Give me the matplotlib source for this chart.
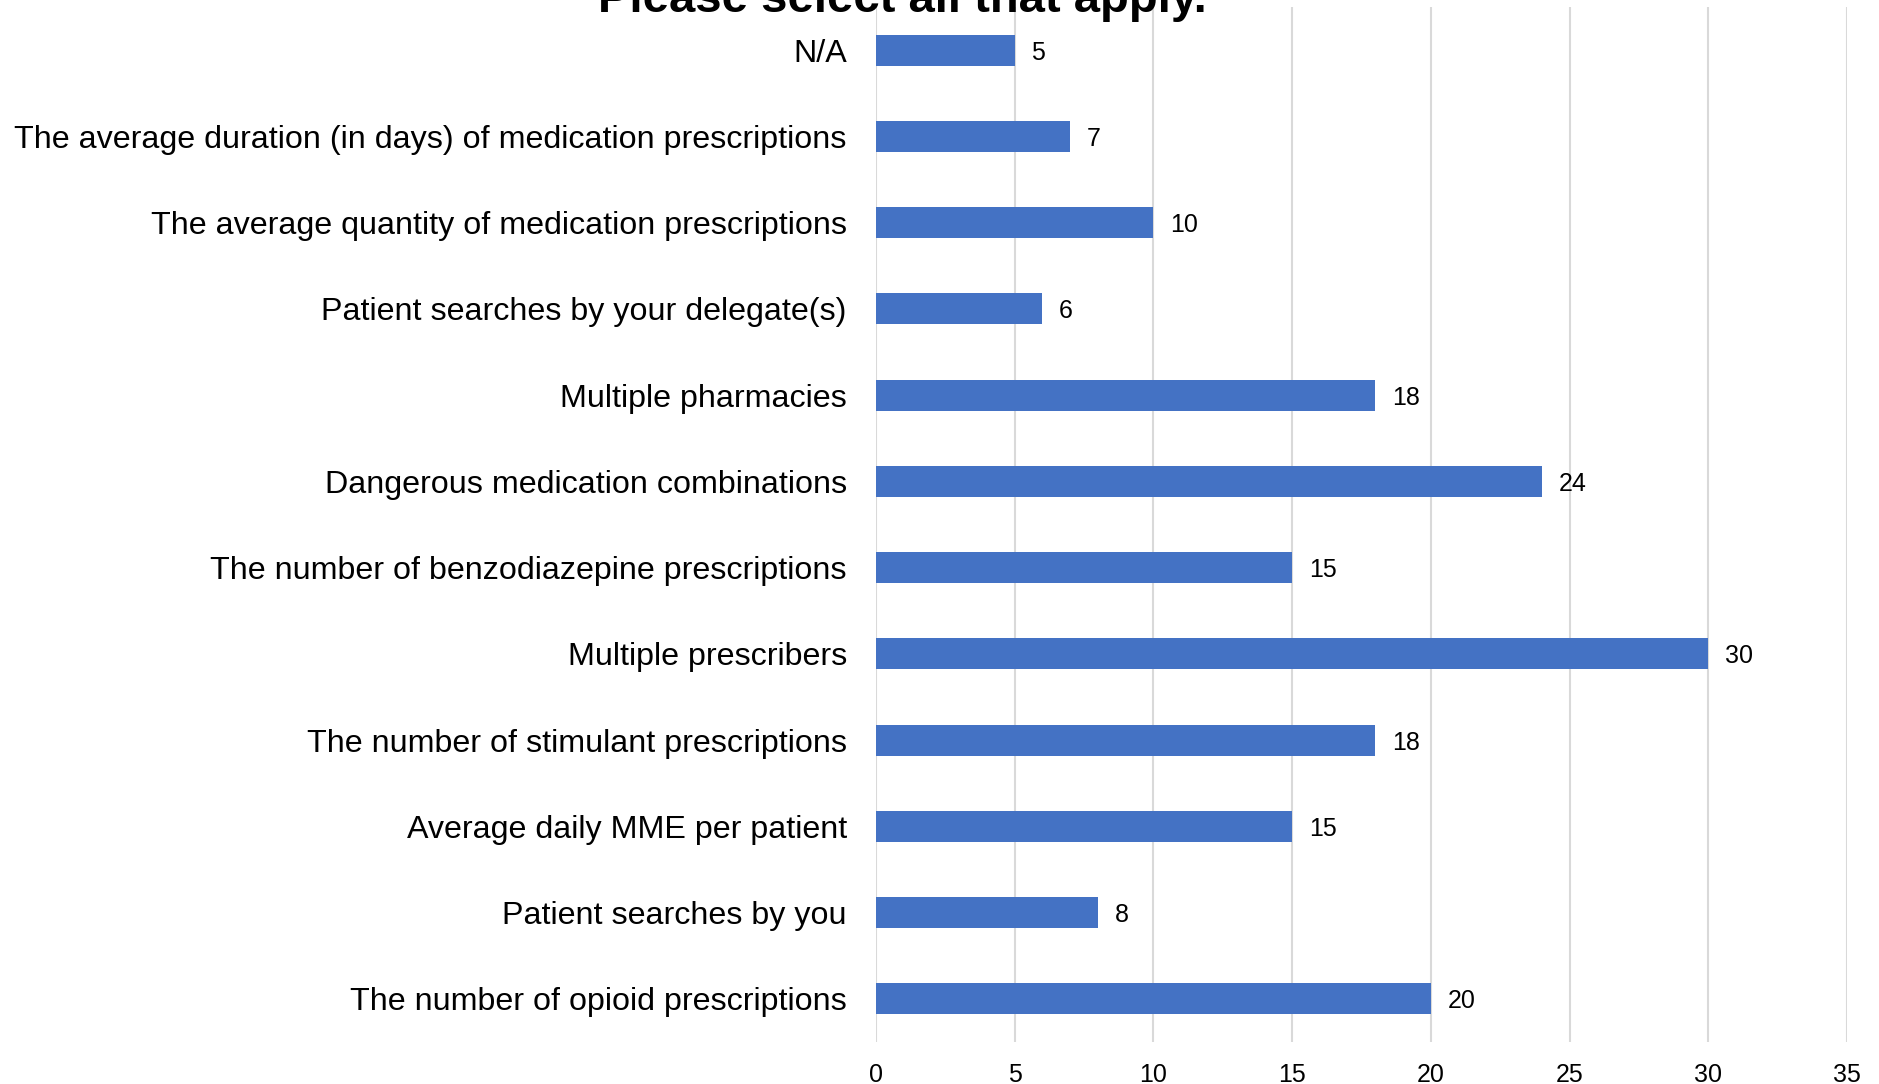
import numpy as np
import matplotlib.pyplot as plt

plt.rcParams['font.family'] = ['Liberation Sans', 'DejaVu Sans']

# categories listed bottom to top
categories = [
    "The number of opioid prescriptions",
    "Patient searches by you",
    "Average daily MME per patient",
    "The number of stimulant prescriptions",
    "Multiple prescribers",
    "The number of benzodiazepine prescriptions",
    "Dangerous medication combinations",
    "Multiple pharmacies",
    "Patient searches by your delegate(s)",
    "The average quantity of medication prescriptions",
    "The average duration (in days) of medication prescriptions",
    "N/A",
]
counts = [20, 8, 15, 18, 30, 15, 24, 18, 6, 10, 7, 5]
xticks = [0, 5, 10, 15, 20, 25, 30, 35]

fig = plt.figure(figsize=(18.79, 10.84), dpi=100)
ax = fig.add_axes([0.4662, 0.0387, 0.5168, 0.9548])

y = np.arange(len(categories))
bars = ax.barh(y, counts, height=0.36, color='#4472C4', zorder=3)

for b, v in zip(bars, counts):
    ax.annotate(str(v), (b.get_width(), b.get_y() + b.get_height() / 2),
                xytext=(12, 0), textcoords='offset points',
                va='center_baseline', ha='left', fontsize=18, color='black')

ax.set_xlim(0, 35)
ax.set_ylim(-0.5, len(categories) - 0.5)
ax.set_xticks(xticks)
ax.set_xticklabels([str(t) for t in xticks], fontsize=18)
ax.set_yticks(y)
ax.set_yticklabels(categories, fontsize=23.2)
ax.tick_params(axis='x', length=0, pad=15)
ax.tick_params(axis='y', length=0, pad=21)
ax.grid(axis='x', color='#d9d9d9', linewidth=1.5, zorder=0)
for s in ax.spines.values():
    s.set_visible(False)

# title sits mostly above the top edge, as in the source image
fig.text(0.48, 1 - 12 / 1084, "Please select all that apply.", ha='center',
         va='baseline', fontsize=34, fontweight='bold')

fig.savefig('out.png', dpi=100)
